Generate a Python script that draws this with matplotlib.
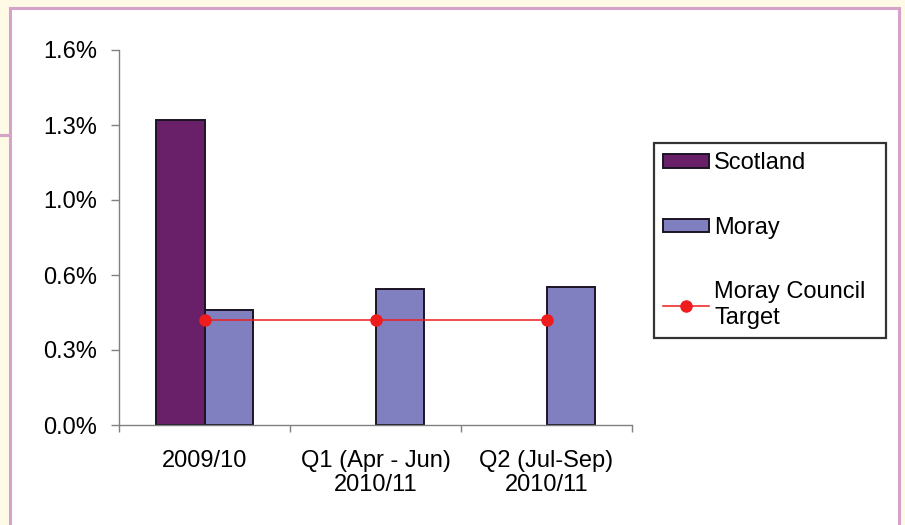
import numpy as np
import matplotlib.pyplot as plt
from matplotlib.patches import Rectangle
from matplotlib.lines import Line2D

plt.rcParams['font.family'] = ['Liberation Sans', 'DejaVu Sans']

categories = ['2009/10', 'Q1 (Apr - Jun)\n2010/11', 'Q2 (Jul-Sep)\n2010/11']
scotland = [1.30, np.nan, np.nan]
moray = [0.49, 0.58, 0.59]
target = [0.45, 0.45, 0.45]
yticks = [0.0, 0.32, 0.64, 0.96, 1.28, 1.6]
ytick_labels = ['0.0%', '0.3%', '0.6%', '1.0%', '1.3%', '1.6%']

W, H = 905, 525
FS = 17
fig = plt.figure(figsize=(W / 100, H / 100), dpi=100, facecolor='#fefae6')

# white panel with pink frame, plus the short rule on the left margin
fig.patches.append(Rectangle((10 / W, -0.05), 889 / W, 1 - 8 / H + 0.05,
                             transform=fig.transFigure, facecolor='white',
                             edgecolor='#d6a2c9', linewidth=2.2, zorder=-2))
fig.lines.append(Line2D([0, 10 / W], [1 - 135 / H] * 2, transform=fig.transFigure,
                        color='#d6a2c9', linewidth=2.2, zorder=-2))

ax = fig.add_axes([119 / W, 100 / H, 513 / W, 375 / H])
ax.set_facecolor('none')

x = np.arange(len(categories))
bw = 0.284
b1 = ax.bar(x - bw / 2, scotland, bw, color='#6a2068', edgecolor='#1c1424',
            linewidth=1.4, label='Scotland')
b2 = ax.bar(x + bw / 2, moray, bw, color='#8080c0', edgecolor='#1c1424',
            linewidth=1.4, label='Moray')
ln, = ax.plot(x, target, color='#ee1c1c', linewidth=1.1, marker='o', markersize=8,
              label='Moray Council\nTarget')

ax.set_xlim(-0.5, len(categories) - 0.5)
ax.set_ylim(0, 1.6)
ax.set_yticks(yticks)
ax.set_yticklabels(ytick_labels, fontsize=FS)
ax.tick_params(axis='y', direction='out', length=6, width=1, color='#808080', pad=10)

# boundary ticks as major, category names as minor
ax.set_xticks(np.arange(len(categories) + 1) - 0.5)
ax.set_xticklabels([])
ax.set_xticks(x, minor=True)
ax.set_xticklabels(categories, minor=True, fontsize=FS, linespacing=1.12)
ax.tick_params(axis='x', which='major', direction='out', length=5, width=1, color='#808080')
ax.tick_params(axis='x', which='minor', length=0, pad=18)

for side in ['top', 'right']:
    ax.spines[side].set_visible(False)
for side in ['left', 'bottom']:
    ax.spines[side].set_color('#808080')
    ax.spines[side].set_linewidth(1)

leg = ax.legend(handles=[b1, b2, ln], loc='upper left',
                bbox_to_anchor=(654 / W, 1 - 143 / H - 0.01, 232 / W, 0.01),
                bbox_transform=fig.transFigure, mode='expand', borderaxespad=0,
                fontsize=FS, frameon=True, fancybox=False, edgecolor='black',
                labelspacing=1.8, handlelength=1.95, handleheight=0.5,
                handletextpad=0.2, borderpad=0.4)
leg.get_frame().set_linewidth(1.6)

fig.savefig('out.png', dpi=100, facecolor=fig.get_facecolor())
